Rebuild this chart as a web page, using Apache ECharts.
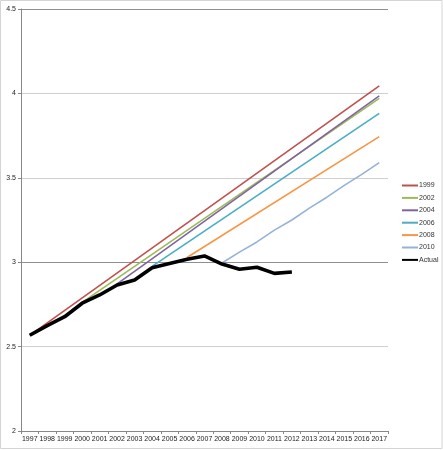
<!DOCTYPE html>
<html>
<head>
<meta charset="utf-8">
<script src="https://cdn.jsdelivr.net/npm/echarts@6/dist/echarts.min.js"></script>
<style>
html,body{margin:0;padding:0;background:#fff;}
#c{width:443px;height:450px;}
</style>
</head>
<body>
<div id="c"></div>
<script>
var years = ['1997','1998','1999','2000','2001','2002','2003','2004','2005','2006','2007','2008','2009','2010','2011','2012','2013','2014','2015','2016','2017'];
var actual = [2.567,2.624,2.677,2.757,2.806,2.865,2.895,2.967,2.993,3.017,3.037,2.989,2.958,2.970,2.934,2.942,null,null,null,null,null];
var p1999 = [2.567,null,null,null,null,null,null,null,null,null,null,null,null,null,null,null,null,null,null,null,4.044];
var p2002 = [null,null,null,2.762,null,null,null,null,null,null,null,null,null,null,null,null,null,null,null,null,3.971];
var p2004 = [null,null,null,null,null,2.872,null,null,null,null,null,null,null,null,null,null,null,null,null,null,3.985];
var p2006 = [null,null,null,null,null,null,null,2.975,null,null,null,null,null,null,null,null,null,null,null,null,3.882];
var p2008 = [null,null,null,null,null,null,null,null,null,3.028,null,null,null,null,null,null,null,null,null,null,3.744];
var p2010 = [null,null,null,null,null,null,null,null,null,null,null,2.995,3.06,3.12,3.19,3.25,3.32,3.385,3.455,3.52,3.59];
var yTicks = ['2','2.5','3','3.5','4','4.5'];

var chart = echarts.init(document.getElementById('c'), null, {renderer:'canvas'});
function proj(name, data, color){
  return {name:name, type:'line', data:data, connectNulls:true, symbol:'none',
    lineStyle:{color:color, width:1.6}, itemStyle:{color:color}, animation:false};
}
var font = 'Liberation Sans, Arial, sans-serif';
chart.setOption({
  animation:false,
  textStyle:{fontFamily:font},
  graphic:[{type:'rect', shape:{x:0.5,y:0.5,width:441.5,height:448}, style:{fill:'none', stroke:'#d4d4d4', lineWidth:1}, silent:true}],
  grid:{left:21, right:55, top:9, bottom:19, containLabel:false},
  legend:{
    orient:'vertical', left:396, top:177, itemWidth:16, itemHeight:8, itemGap:5.4,
    itemStyle:{opacity:0},
    textStyle:{fontSize:7, color:'#333', fontFamily:font, padding:[0,0,0,-4]},
    data:['1999','2002','2004','2006','2008','2010','Actual']
  },
  xAxis:{
    type:'category', data:years, boundaryGap:true,
    axisLine:{lineStyle:{color:'#888', width:1}},
    axisTick:{show:true, length:3, lineStyle:{color:'#888'}},
    axisLabel:{fontSize:7, color:'#222', margin:5, interval:0, fontFamily:font},
    splitLine:{show:false}
  },
  yAxis:{
    type:'value', min:2, max:4.5, interval:0.5,
    axisLine:{show:true, lineStyle:{color:'#888', width:1}},
    axisTick:{show:true, length:3, lineStyle:{color:'#888'}},
    axisLabel:{fontSize:7, color:'#222', margin:5, fontFamily:font,
      formatter:function(v){ return yTicks[Math.round((v-2)/0.5)]; }},
    splitLine:{show:true, lineStyle:{color:['#888','#cfcfcf','#8f8f8f','#cfcfcf','#cfcfcf','#8f8f8f'], width:1}}
  },
  series:[
    proj('1999', p1999, '#C0504D'),
    proj('2002', p2002, '#9BBB59'),
    proj('2004', p2004, '#8064A2'),
    proj('2006', p2006, '#4BACC6'),
    proj('2008', p2008, '#F79646'),
    proj('2010', p2010, '#95B3D7'),
    {name:'Actual', type:'line', data:actual, symbol:'none', connectNulls:false,
      lineStyle:{color:'#000', width:3.6}, itemStyle:{color:'#000'}, animation:false}
  ]
});
</script>
</body>
</html>
